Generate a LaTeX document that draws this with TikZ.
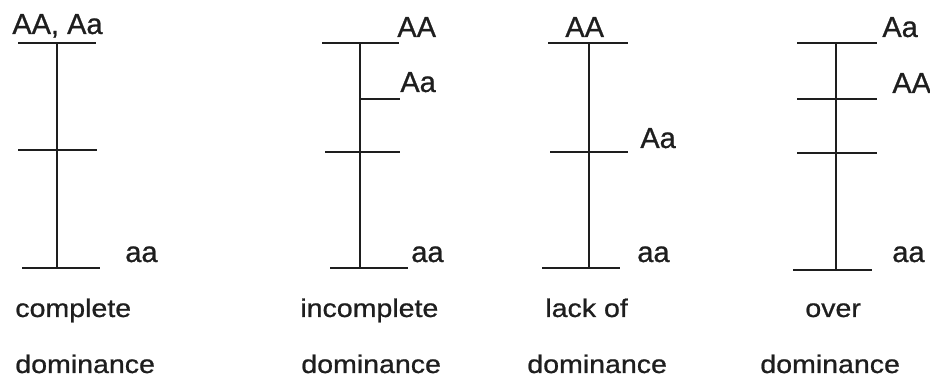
\documentclass[tikz,border=0pt]{standalone}
\usepackage{fontspec}
\setmainfont[FakeBold=0.6]{Liberation Sans}
\newfontfamily\genofont[FakeBold=0.8]{Liberation Sans}
\newfontfamily\kindfont[FakeStretch=1.12, FakeBold=0.8]{Liberation Sans}
\usepackage{tikz}
\usetikzlibrary{positioning}
\usepackage{xcolor}
\definecolor{ink}{HTML}{1E1E1E}

\begin{document}
\begin{tikzpicture}[
    bar/.style={draw=ink, line width=1.1pt},
    geno/.style={anchor=base west, inner sep=0pt, text=ink, font=\genofont\fontsize{16.5}{18}\selectfont},
    kind/.style={anchor=base west, inner sep=0pt, text=ink, font=\kindfont\fontsize{14.5}{16}\selectfont}]
    \useasboundingbox (0,0) rectangle (18.6,7.66);

    % complete dominance
    \coordinate (c-top) at (1.14,6.80);
    \coordinate (c-bot) at (1.14,2.30);
    \draw[bar] (c-top) -- (c-bot);
    \draw[bar] (0.36,6.80) -- (1.92,6.80);
    \draw[bar] (0.36,4.66) -- (1.94,4.66);
    \draw[bar] (0.44,2.30) -- (2.00,2.30);
    \node[geno] (c-AA) at (0.24,6.98) {AA, Aa};
    \node[geno] (c-aa) at (2.50,2.42) {aa};
    \node[kind] (c-name) at (0.30,1.32) {complete};
    \node[kind] (c-dom) at (0.30,0.20) {dominance};

    % incomplete dominance
    \coordinate (i-top) at (7.20,6.80);
    \coordinate (i-bot) at (7.20,2.30);
    \draw[bar] (i-top) -- (i-bot);
    \draw[bar] (6.44,6.80) -- (7.98,6.80);
    \draw[bar] (7.20,5.68) -- (8.00,5.68);
    \draw[bar] (6.50,4.62) -- (8.00,4.62);
    \draw[bar] (6.60,2.30) -- (8.16,2.30);
    \node[geno] (i-AA) at (7.94,6.92) {AA};
    \node[geno] (i-Aa) at (8.00,5.82) {Aa};
    \node[geno] (i-aa) at (8.22,2.42) {aa};
    \node[kind] (i-name) at (6.00,1.32) {incomplete};
    \node[kind] (i-dom) at (6.02,0.20) {dominance};

    % lack of dominance
    \coordinate (l-top) at (11.78,6.80);
    \coordinate (l-bot) at (11.78,2.30);
    \draw[bar] (l-top) -- (l-bot);
    \draw[bar] (10.96,6.80) -- (12.56,6.80);
    \draw[bar] (11.00,4.62) -- (12.56,4.62);
    \draw[bar] (10.84,2.30) -- (12.40,2.30);
    \node[geno] (l-AA) at (11.30,6.92) {AA};
    \node[geno] (l-Aa) at (12.80,4.70) {Aa};
    \node[geno] (l-aa) at (12.74,2.42) {aa};
    \node[kind] (l-name) at (10.90,1.32) {lack of};
    \node[kind] (l-dom) at (10.54,0.20) {dominance};

    % over dominance
    \coordinate (o-top) at (16.72,6.80);
    \coordinate (o-bot) at (16.72,2.26);
    \draw[bar] (o-top) -- (o-bot);
    \draw[bar] (15.94,6.80) -- (17.54,6.80);
    \draw[bar] (15.94,5.68) -- (17.54,5.68);
    \draw[bar] (15.94,4.60) -- (17.54,4.60);
    \draw[bar] (15.86,2.26) -- (17.44,2.26);
    \node[geno] (o-Aa) at (17.64,6.92) {Aa};
    \node[geno] (o-AA) at (17.84,5.80) {AA};
    \node[geno] (o-aa) at (17.84,2.42) {aa};
    \node[kind] (o-name) at (16.10,1.32) {over};
    \node[kind] (o-dom) at (15.20,0.20) {dominance};
\end{tikzpicture}
\end{document}
